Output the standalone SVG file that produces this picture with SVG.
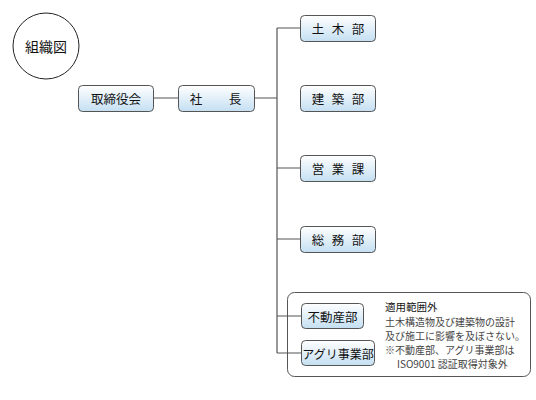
<svg xmlns="http://www.w3.org/2000/svg" width="536" height="400" viewBox="0 0 536 400">
<defs>
<linearGradient id="g" x1="0" y1="0" x2="0" y2="1">
<stop offset="0" stop-color="#ffffff"/>
<stop offset="1" stop-color="#c4dff2"/>
</linearGradient>
</defs>
<style>
.box{fill:url(#g);stroke:#555;stroke-width:1}
.t{font-family:"Noto Sans CJK JP","Noto Sans",sans-serif;font-size:12.5px;fill:#111;text-anchor:middle;dominant-baseline:central}
.ln{stroke:#555;stroke-width:1.2;fill:none}
.n{font-family:"Noto Sans CJK JP",sans-serif;font-size:10px;fill:#444}
</style>
<rect width="536" height="400" fill="#fff"/>
<g id="title">
<circle cx="46" cy="46" r="33" fill="#fff" stroke="#222" stroke-width="1"/>
<text class="t" x="46" y="46" style="font-size:14px">組織図</text>
</g>
<g id="note">
<rect x="287.5" y="292.5" width="243" height="84" rx="7" fill="#fff" stroke="#555" stroke-width="1"/>
<text class="n" x="385" y="311" style="fill:#111;font-size:10.5px">適用範囲外</text>
<text class="n" x="385" y="326">土木構造物及び建築物の設計</text>
<text class="n" x="385" y="340">及び施工に影響を及ぼさない。</text>
<text class="n" x="385" y="354">※不動産部、アグリ事業部は</text>
<text class="n" x="397" y="368">ISO9001 認証取得対象外</text>
</g>
<g id="connectors">
<path class="ln" d="M153 98H178M255 98H277M277 28V353M277 28H300M277 239H300M277 168H300M277 316H301M277 353H301"/>
</g>
<g id="n-board"><rect class="box" x="78.5" y="85.5" width="75" height="26" rx="4"/><text class="t" x="116" y="98.5">取締役会</text></g>
<g id="n-president"><rect class="box" x="178.5" y="85.5" width="76" height="26" rx="4"/><text class="t" x="196 235" y="98.5">社長</text></g>
<g id="n-civil"><rect class="box" x="300.5" y="15.5" width="75" height="26" rx="4"/><text class="t" x="318 338 358" y="28.5">土木部</text></g>
<g id="n-arch"><rect class="box" x="300.5" y="85.5" width="75" height="26" rx="4"/><text class="t" x="318 338 358" y="98.5">建築部</text></g>
<g id="n-sales"><rect class="box" x="300.5" y="155.5" width="75" height="26" rx="4"/><text class="t" x="318 338 358" y="168.5">営業課</text></g>
<g id="n-general"><rect class="box" x="300.5" y="226.5" width="75" height="26" rx="4"/><text class="t" x="318 338 358" y="239.5">総務部</text></g>
<g id="n-estate"><rect class="box" x="301.5" y="303.5" width="62" height="25" rx="4"/><text class="t" x="332.5" y="316">不動産部</text></g>
<g id="n-agri"><rect class="box" x="301.5" y="340.5" width="73" height="25" rx="4"/><text class="t" x="338" y="353" style="font-size:12px">アグリ事業部</text></g>
</svg>
